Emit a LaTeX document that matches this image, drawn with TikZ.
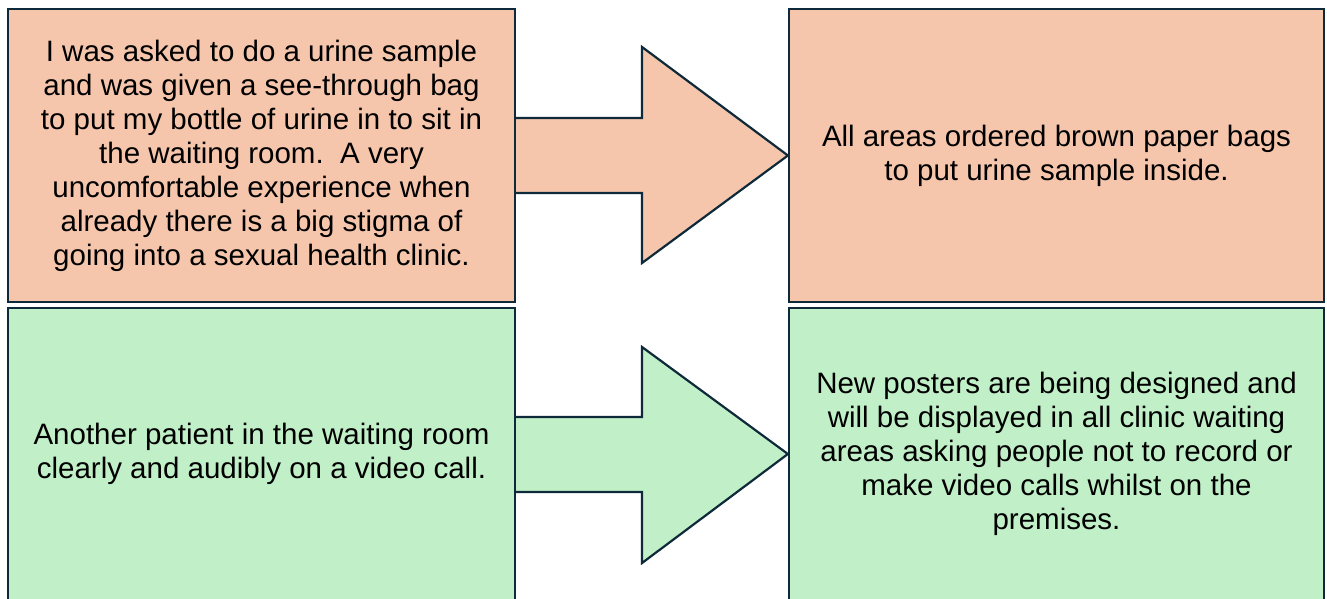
\documentclass[tikz,border=0pt]{standalone}
\usepackage{fontspec}
\setmainfont{Liberation Sans}
\definecolor{peach}{HTML}{F6C6AC}
\definecolor{mint}{HTML}{C1F0C8}
\definecolor{edge}{HTML}{0E2A3A}
\begin{document}
\begin{tikzpicture}[x=1pt,y=-1pt,
  box/.style={draw=edge, line width=2.2pt, rectangle, inner sep=0pt, align=center,
    font=\fontsize{29.5}{34}\selectfont, text=black},
  arrowline/.style={draw=edge, line width=2.2pt, line join=miter}]
\useasboundingbox (0,0) rectangle (1327,599);
\clip (0,0) rectangle (1327,599);
\fill[white] (0,0) rectangle (1327,599);
% boxes
\node[box, fill=peach, minimum width=507pt, minimum height=293pt] (tl) at (261.5,155.5)
  {I was asked to do a urine sample\\and was given a see-through bag\\to put my bottle of urine in to sit in\\the waiting room.\ \ A very\\uncomfortable experience when\\already there is a big stigma of\\going into a sexual health clinic.};
\node[box, fill=peach, minimum width=535pt, minimum height=293pt] (tr) at (1056.5,155.5)
  {All areas ordered brown paper bags\\to put urine sample inside.};
\node[box, fill=mint, minimum width=507pt, minimum height=292pt] (bl) at (261.5,454)
  {Another patient in the waiting room\\clearly and audibly on a video call.};
\node[box, fill=mint, minimum width=535pt, minimum height=292pt] (br) at (1056.5,454)
  {New posters are being designed and\\will be displayed in all clinic waiting\\areas asking people not to record or\\make video calls whilst on the\\premises.};
% top arrow
\coordinate (a1s) at (tl.east |- 0,118);
\coordinate (a1e) at (tl.east |- 0,193);
\fill[peach] (a1s) -- (642,118) -- (642,47) -- (tr.west) -- (642,263) -- (642,193) -- (a1e) -- cycle;
\draw[arrowline] (a1s) -- (642,118) -- (642,47) -- (tr.west) -- (642,263) -- (642,193) -- (a1e);
% bottom arrow
\coordinate (a2s) at (bl.east |- 0,417);
\coordinate (a2e) at (bl.east |- 0,492);
\fill[mint] (a2s) -- (642,417) -- (642,347) -- (br.west) -- (642,563) -- (642,492) -- (a2e) -- cycle;
\draw[arrowline] (a2s) -- (642,417) -- (642,347) -- (br.west) -- (642,563) -- (642,492) -- (a2e);
\end{tikzpicture}
\end{document}
